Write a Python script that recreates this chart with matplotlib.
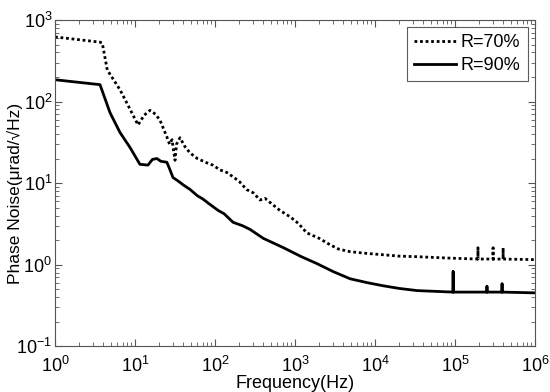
import matplotlib
matplotlib.use('Agg')
import matplotlib.pyplot as plt
from matplotlib.ticker import NullFormatter

plt.rcParams['font.family'] = ['Liberation Sans', 'DejaVu Sans']
plt.rcParams['mathtext.fontset'] = 'custom'
plt.rcParams['mathtext.rm'] = 'Liberation Sans'
plt.rcParams['mathtext.it'] = 'Liberation Sans:italic'
plt.rcParams['mathtext.default'] = 'regular'

# R=70% (dotted)
f70 = [1, 3.65, 3.9, 4.5, 6.5, 7.9, 10.9, 13, 15.4, 18, 20.5, 25, 27, 29,
       31.6, 33, 36.5, 42, 48.7, 60, 79, 95, 115, 140, 168, 200, 249, 300,
       365, 420, 531, 650, 866, 1100, 1400, 2000, 2740, 3500, 4870, 8000,
       12600, 20000, 33500, 86600, 193000, 193000, 193000, 298000, 298000,
       298000, 398000, 398000, 398000, 1000000]
v70 = [620, 535, 520, 244, 139, 96, 51.6, 68, 78, 70, 59, 36.8, 30, 34,
       19, 30, 36, 28, 23.4, 20, 17.7, 16.5, 14.5, 13.5, 11.9, 10.5, 8.3,
       7.6, 6.2, 6.5, 5.4, 4.6, 3.86, 3.2, 2.45, 2.1, 1.75, 1.55, 1.44,
       1.37, 1.32, 1.27, 1.25, 1.2, 1.17, 1.6, 1.17, 1.17, 1.6, 1.17, 1.17,
       1.6, 1.17, 1.15]

# R=90% (solid)
f90 = [1, 3.65, 4.87, 6.49, 8.66, 11.5, 14.5, 16.5, 18.8, 21, 25, 27, 29.8,
       35, 40, 48.7, 60, 70, 86.6, 110, 130, 168, 220, 274, 400, 708, 1200,
       1870, 3000, 4870, 8000, 12600, 20000, 33500, 94400, 94400, 94400,
       250000, 250000, 250000, 386000, 386000, 386000, 1000000]
v90 = [185, 161, 73, 41.7, 27.3, 17, 16.6, 19.5, 20, 18.5, 18, 15, 11.7,
       10.5, 9.5, 8.35, 7, 6.4, 5.46, 4.6, 4.2, 3.3, 3.0, 2.7, 2.1, 1.62,
       1.25, 1.03, 0.82, 0.67, 0.6, 0.55, 0.51, 0.48, 0.46, 0.82, 0.46,
       0.46, 0.54, 0.46, 0.46, 0.58, 0.46, 0.45]

fig = plt.figure(figsize=(5.5, 3.92), dpi=100)
ax = fig.add_axes([0.1, 0.117, 0.873, 0.832])

ax.loglog(f70, v70, color='black', linestyle=(0, (1, 1)), linewidth=2.0,
          label='R=70%')
ax.loglog(f90, v90, color='black', linestyle='-', linewidth=2.0, label='R=90%')

ax.set_xlim(1, 1e6)
ax.set_ylim(0.1, 1000)
ax.xaxis.set_minor_formatter(NullFormatter())
ax.yaxis.set_minor_formatter(NullFormatter())
ax.set_xlabel('Frequency(Hz)', fontsize=13, labelpad=-1)
ax.set_ylabel('Phase Noise(\u03bcrad/\u221aHz)', fontsize=12.5)
ax.yaxis.set_label_coords(-0.066, 0.469)

ax.tick_params(which='both', direction='in', top=True, right=True,
               labelsize=13, color='#555555')
ax.tick_params(axis='x', which='major', pad=7)
ax.tick_params(axis='y', which='major', pad=2)
ax.tick_params(which='major', length=5)
ax.tick_params(which='minor', length=3)
for s in ax.spines.values():
    s.set_color('#555555')

leg = ax.legend(loc='upper right', fontsize=13, frameon=True, fancybox=False,
                edgecolor='#333333', handlelength=2.3, borderaxespad=0.4,
                labelspacing=0.3, handletextpad=0.3, borderpad=0.4)
leg.get_frame().set_linewidth(0.8)

fig.savefig('out.png', dpi=100)
